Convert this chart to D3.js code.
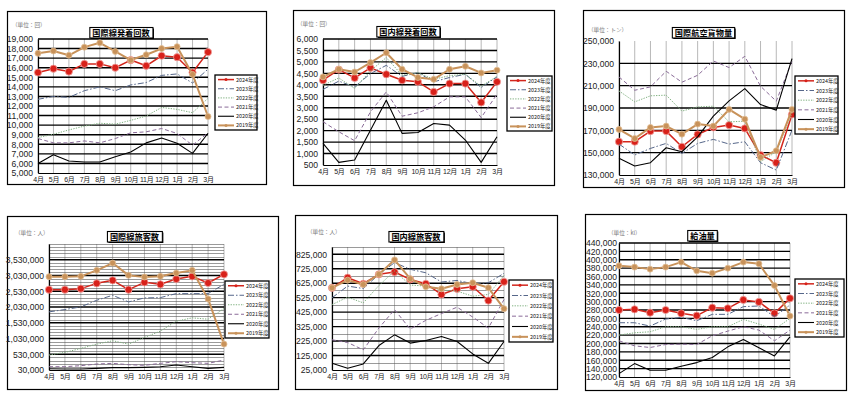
<!DOCTYPE html>
<html><head><meta charset="utf-8">
<script src="https://cdn.jsdelivr.net/npm/d3@7"></script>
<style>
html,body{margin:0;padding:0;background:#fff;}
svg{display:block;}
text{font-family:"Liberation Sans","Noto Sans CJK JP",sans-serif;}
.jp{font-family:"Noto Sans CJK JP","Liberation Sans",sans-serif;}
</style></head>
<body>
<svg id="chart" width="853" height="399"></svg>
<script>
// ---- data ----
const months = ["4月","5月","6月","7月","8月","9月","10月","11月","12月","1月","2月","3月"];
const years = ["2024年度","2023年度","2022年度","2021年度","2020年度","2019年度"];

// rows in the order of `years`
const intlFlights = [
  [15500,15900,15600,16400,16400,16000,16800,16200,17250,17100,15500,17630],
  [12700,13000,12900,13600,14000,13600,14200,14450,15200,15350,14400,15850],
  [8700,9050,9500,9900,10200,10100,10500,10950,11850,11650,11300,12800],
  [8600,8150,8150,8350,8150,8600,9200,9300,9650,9130,7900,9200],
  [6000,6900,6250,6150,6150,6700,7200,8150,8650,8100,7050,9150],
  [17500,17750,17300,18150,18600,17700,16800,17350,18000,18200,15300,10900]
];
const domFlights = [
  [4200,4665,4300,4740,4460,4200,4130,3690,4055,4055,3230,4130],
  [3800,4160,3910,4490,4850,4370,4530,4130,4320,4460,3880,4350],
  [3980,4300,3840,4610,5190,4420,4530,4240,4400,4460,3940,4370],
  [2390,1950,1560,2820,3690,2630,2780,3040,3475,3475,2570,3590],
  [1440,615,720,2020,3330,1880,1920,2310,2240,1590,615,1730],
  [4345,4680,4560,4970,5400,4680,4320,4240,4680,4810,4520,4640]
];
const intlCargo = [
  [159800,159800,169300,169300,155300,166300,172600,174700,171700,147900,141000,184200],
  [157700,147900,153800,158300,149300,158300,161900,157700,159800,141000,134400,170200],
  [205300,195500,200900,201500,187200,191000,191600,177600,178200,141900,150800,185100],
  [217800,205900,208900,222900,213100,219300,232100,226200,236300,209500,196100,232100],
  [144900,138000,141000,154400,150800,164200,182700,196400,207400,193100,188100,234200],
  [170800,162700,172600,173800,166600,175600,173800,188700,180000,145800,151700,188700]
];
const intlPax = [
  [2581000,2581000,2613000,2781000,2876000,2581000,2813000,2750000,2918000,3003000,2792000,3066000],
  [1875000,1949000,2033000,2244000,2402000,2191000,2318000,2328000,2455000,2455000,2455000,2750000],
  [504000,589000,715000,852000,958000,852000,1063000,1263000,1580000,1685000,1643000,1980000],
  [135000,135000,167000,220000,241000,199000,178000,241000,294000,262000,241000,346000],
  [72000,62000,62000,83000,104000,104000,114000,135000,188000,135000,83000,114000],
  [2992000,2992000,3003000,3193000,3425000,3034000,2982000,3003000,3108000,3193000,2286000,852000]
];
const domPax = [
  [593000,663000,621000,686000,702000,651000,621000,547000,586000,600000,505000,635000],
  [524000,605000,588000,686000,767000,721000,697000,633000,644000,621000,628000,693000],
  [477000,528000,489000,609000,709000,612000,605000,577000,570000,535000,547000,679000],
  [234000,215000,164000,315000,442000,308000,368000,415000,459000,391000,315000,512000],
  [71000,37000,67000,194000,268000,211000,229000,257000,222000,136000,71000,222000],
  [593000,646000,616000,686000,786000,656000,600000,586000,616000,628000,593000,449000]
];
const fuel = [
  [280000,281600,273600,280000,272000,266400,285600,284000,304000,299200,272000,308000],
  [249600,249600,241600,258400,262400,254400,269600,269600,288000,289600,264000,292000],
  [220000,225600,228000,240000,240000,233600,240000,240000,257600,246400,233600,260000],
  [206400,194400,190400,197600,198400,197600,218400,229600,240000,232000,206400,232000],
  [128000,152000,136000,136000,145600,154400,166400,192000,209600,189600,170400,216000],
  [385600,382400,377600,382400,394400,373600,368000,380000,394400,390400,338400,265600]
];

const titles = ["国際線発着回数","国内線発着回数","国際航空貨物量","国際線旅客数","国内線旅客数","給油量"];
const units = ["（単位：回）","（単位：回）","（単位：トン）","（単位：人）","（単位：人）","（単位：kl）"];

const ticksIntlFlights = [5000,6000,7000,8000,9000,10000,11000,12000,13000,14000,15000,16000,17000,18000,19000];
const ticksDomFlights = [500,1000,1500,2000,2500,3000,3500,4000,4500,5000,5500,6000];
const ticksIntlCargo = [130000,150000,170000,190000,210000,230000,250000];
const ticksIntlPax = [30000,530000,1030000,1530000,2030000,2530000,3030000,3530000];
const ticksDomPax = [25000,125000,225000,325000,425000,525000,625000,725000,825000];
const ticksFuel = [120000,140000,160000,180000,200000,220000,240000,260000,280000,300000,320000,340000,360000,380000,400000,420000,440000];

// ---- layout ----
const panels = [
  {data:intlFlights, ticks:ticksIntlFlights, domain:[5000,19000], minorStep:0,
   box:[7,11,266,184], plot:[38,39,208,173], legend:[215,75,257,130], titleY:28, unit:[12,27], labelGap:5, fs:8.6},
  {data:domFlights, ticks:ticksDomFlights, domain:[500,6000], minorStep:0,
   box:[293,10,554,185], plot:[323,39,497,165], legend:[507,76,552,131], titleY:27, unit:[297,26], labelGap:5, fs:8.6},
  {data:intlCargo, ticks:ticksIntlCargo, domain:[130000,250000], minorStep:0, noTop:true,
   box:[583,10,844,187], plot:[619,41,792,175], legend:[795,76,838,134], titleY:28, unit:[588,32], labelGap:5, fs:8.6},
  {data:intlPax, ticks:ticksIntlPax, domain:[30000,4030000], minorStep:100000,
   box:[7,216,278,389], plot:[49,244,224,370], legend:[225,281,269,338], titleY:232, unit:[15,235], labelGap:5, fs:8.6},
  {data:domPax, ticks:ticksDomPax, domain:[25000,875000], minorStep:50000,
   box:[295,215,557,389], plot:[332,247,504,370], legend:[509,280,553,342], titleY:232, unit:[307,234], labelGap:5, fs:8.6},
  {data:fuel, ticks:ticksFuel, domain:[120000,440000], minorStep:0,
   box:[585,214,846,390], plot:[619,243,790,377], legend:[795,279,844,337], titleY:231, unit:[608,235], labelGap:2, fs:8.6}
];

const styles = [
  {color:"#d3261c", width:1.5, dash:null, marker:3.6, mfill:"#d8211a", mstroke:"#f2a3a0"},
  {color:"#56678a", width:1, dash:"6,2,1.5,2"},
  {color:"#7fb07f", width:1, dash:"1.3,1.3"},
  {color:"#8a6b98", width:1, dash:"4,2.5"},
  {color:"#000000", width:1.1, dash:null},
  {color:"#c8925a", width:2, dash:null, marker:3, mfill:"#c8925a", mstroke:"#e2bf96"}
];

const svg = d3.select("#chart");
const fmt = d3.format(",");

panels.forEach((p, i) => {
  const g = svg.append("g");
  const [bx0, by0, bx1, by1] = p.box;
  g.append("rect").attr("x", bx0 + 0.5).attr("y", by0 + 0.5)
    .attr("width", bx1 - bx0).attr("height", by1 - by0)
    .attr("fill", "#fff").attr("stroke", "#000").attr("stroke-width", 1.2);

  const [px0, py0, px1, py1] = p.plot;
  const x = d3.scalePoint().domain(months).range([px0, px1]);
  const y = d3.scaleLinear().domain(p.domain).range([py1, py0]);

  // vertical grid
  g.append("g").selectAll("line").data(months).join("line")
    .attr("x1", d => x(d)).attr("x2", d => x(d))
    .attr("y1", py0).attr("y2", py1)
    .attr("stroke", "#b8b8b8").attr("stroke-width", 1);

  // minor horizontal grid
  if (p.minorStep) {
    const minor = d3.range(p.domain[0], p.domain[1] + 1, p.minorStep)
      .filter(v => !p.ticks.includes(v));
    g.append("g").selectAll("line").data(minor).join("line")
      .attr("x1", px0).attr("x2", px1)
      .attr("y1", d => Math.round(y(d)) + 0.5).attr("y2", d => Math.round(y(d)) + 0.5)
      .attr("stroke", "#555").attr("stroke-width", 0.6);
  }
  // major horizontal grid
  const majors = p.ticks.filter(v => v !== p.domain[0] && !(p.noTop && v === p.domain[1]));
  g.append("g").selectAll("line").data(majors).join("line")
    .attr("x1", px0).attr("x2", px1)
    .attr("y1", d => y(d)).attr("y2", d => y(d))
    .attr("stroke", "#000").attr("stroke-width", 1.4);

  // axes
  const yAxis = d3.axisLeft(y).tickValues(p.ticks).tickFormat(fmt).tickSize(0).tickPadding(p.labelGap);
  const ya = g.append("g").attr("transform", `translate(${px0},0)`).call(yAxis);
  ya.select(".domain").attr("stroke", "#000").attr("stroke-width", 1.2);
  ya.selectAll("text").attr("font-size", p.fs).attr("fill", "#222")
    .attr("font-family", "'Liberation Sans',sans-serif");

  const xAxis = d3.axisBottom(x).tickSize(0).tickPadding(4);
  const xa = g.append("g").attr("transform", `translate(0,${py1})`).call(xAxis);
  xa.select(".domain").attr("stroke", "#000").attr("stroke-width", 1.2);
  xa.selectAll("text").attr("font-size", 7).attr("fill", "#222")
    .attr("letter-spacing", -0.3)
    .attr("font-family", "'Liberation Sans','Noto Sans CJK JP',sans-serif");

  // series
  const line = d3.line().x((d, j) => x(months[j])).y(d => y(d));
  p.data.forEach((vals, k) => {
    const s = styles[k];
    g.append("path").datum(vals).attr("d", line)
      .attr("fill", "none").attr("stroke", s.color).attr("stroke-width", s.width)
      .attr("stroke-dasharray", s.dash).attr("stroke-linejoin", "round");
    if (s.marker) {
      g.append("g").selectAll("circle").data(vals).join("circle")
        .attr("cx", (d, j) => x(months[j])).attr("cy", d => y(d))
        .attr("r", s.marker).attr("fill", s.mfill)
        .attr("stroke", s.mstroke).attr("stroke-width", 0.8);
    }
  });

  // title (box with drop shadow)
  const tcx = (px0 + px1) / 2 - 2;
  const tShadow = g.append("rect");
  const tRect = g.append("rect");
  const tt = g.append("text").attr("class", "jp").attr("x", tcx).attr("y", p.titleY + 8)
    .attr("text-anchor", "middle").attr("font-size", 8.2).attr("font-weight", "bold")
    .attr("fill", "#000").text(titles[i]);
  const bb = tt.node().getBBox();
  tShadow.attr("x", bb.x - 1.5).attr("y", p.titleY + 0.5).attr("width", bb.width + 5).attr("height", 10.5)
    .attr("fill", "#000");
  tRect.attr("x", bb.x - 2.5).attr("y", p.titleY - 0.5).attr("width", bb.width + 5).attr("height", 10.5)
    .attr("fill", "#fff").attr("stroke", "#000").attr("stroke-width", 1.1);

  // unit
  g.append("text").attr("class", "jp").attr("x", p.unit[0]).attr("y", p.unit[1])
    .attr("font-size", 5.6).attr("fill", "#777").text(units[i]);

  // legend
  const [lx0, ly0, lx1, ly1] = p.legend;
  g.append("rect").attr("x", lx0).attr("y", ly0).attr("width", lx1 - lx0).attr("height", ly1 - ly0)
    .attr("fill", "#fff").attr("stroke", "#000").attr("stroke-width", 1.3);
  const rowH = (ly1 - ly0) / 6;
  years.forEach((yr, k) => {
    const s = styles[k];
    const cy = ly0 + rowH * (k + 0.5);
    g.append("line").attr("x1", lx0 + 3).attr("x2", lx0 + 19).attr("y1", cy).attr("y2", cy)
      .attr("stroke", s.color).attr("stroke-width", s.width).attr("stroke-dasharray", s.dash);
    if (s.marker) {
      g.append("circle").attr("cx", lx0 + 11).attr("cy", cy).attr("r", 1.5).attr("fill", s.mfill);
    }
    g.append("text").attr("class", "jp").attr("x", lx0 + 21).attr("y", cy + 2)
      .attr("font-size", 5.4).attr("fill", "#222").text(yr);
  });
});
</script>
</body></html>
